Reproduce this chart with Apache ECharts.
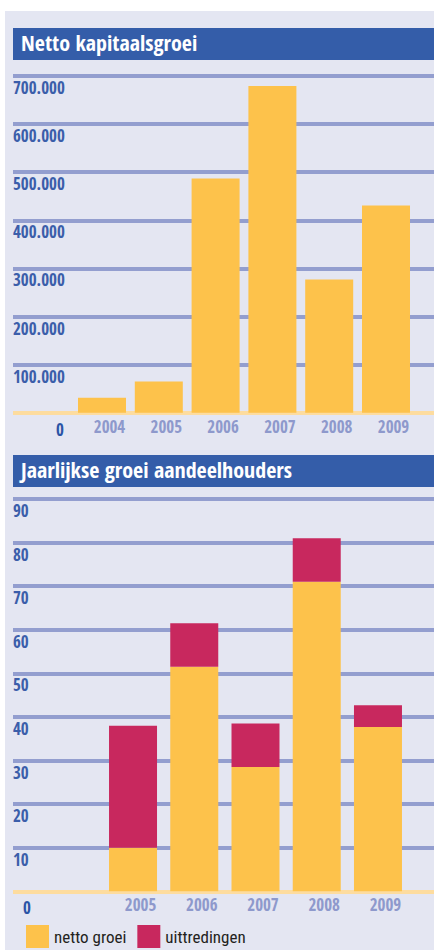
<!DOCTYPE html>
<html>
<head>
<meta charset="utf-8">
<script src="https://cdn.jsdelivr.net/npm/echarts@6/dist/echarts.min.js"></script>
<style>
html,body{margin:0;padding:0;background:#ffffff;}
#c{width:434px;height:950px;}
</style>
</head>
<body>
<div id="c"></div>
<script>
// ---- data ----
const capTitle = 'Netto kapitaalsgroei';
const capYears = ['2004', '2005', '2006', '2007', '2008', '2009'];
const capGrowth = [31000, 65000, 487000, 679000, 277000, 431000];
const capTicks = [0, 100000, 200000, 300000, 400000, 500000, 600000, 700000];

const holderTitle = 'Jaarlijkse groei aandeelhouders';
const holderYears = ['2005', '2006', '2007', '2008', '2009'];
const nettoGroei = [10, 51.5, 28.5, 71, 37.7];
const uittredingen = [28, 10, 10, 10, 5];
const holderTicks = [0, 10, 20, 30, 40, 50, 60, 70, 80, 90];
const seriesNames = ['netto groei', 'uittredingen'];

// ---- style ----
const FONT = '"Open Sans Condensed", "Roboto Condensed", sans-serif';
const FONT_REG = '"Roboto Condensed", "Open Sans", sans-serif';
const PANEL = '#e4e6f2';
const BAND = '#345da9';
const GRID = '#939ecf';
const BASE = '#fddc9f';
const LABEL = '#3b5eaa';
const ZERO = '#2b54a6';
const YEAR = '#8e99cc';
const YELLOW = '#fdc24b';
const CRIMSON = '#c8285e';

function lineColors(n) {
  const a = [BASE];
  for (let i = 1; i < n; i++) a.push(GRID);
  return a;
}

const chart = echarts.init(document.getElementById('c'), null, {renderer: 'svg'});

function yLabel(zeroPad, fmt) {
  return {
    inside: true,
    margin: 0,
    verticalAlign: 'top',
    padding: [3, 0, 0, 0],
    color: LABEL,
    fontFamily: FONT,
    fontWeight: 'bold',
    fontSize: 17,
    formatter: function (v) { return v === 0 ? '{z|0}' : fmt(v); },
    rich: {
      z: {padding: [5, 0, 0, zeroPad], color: ZERO, fontFamily: FONT, fontWeight: 'bold', fontSize: 17}
    }
  };
}

const option = {
  animation: false,
  graphic: [
    {type: 'rect', z: -10, shape: {x: 5, y: 11, width: 429, height: 939}, style: {fill: PANEL}, silent: true},
    {type: 'rect', z: -5, shape: {x: 13, y: 28, width: 421, height: 32}, style: {fill: BAND}, silent: true},
    {type: 'rect', z: -5, shape: {x: 13, y: 455, width: 421, height: 32}, style: {fill: BAND}, silent: true}
  ],
  title: [
    {text: capTitle, left: 21, top: 31, padding: 0,
     textStyle: {color: '#ffffff', fontFamily: FONT, fontWeight: 'bold', fontSize: 22}},
    {text: holderTitle, left: 21, top: 458, padding: 0,
     textStyle: {color: '#ffffff', fontFamily: FONT, fontWeight: 'bold', fontSize: 22}}
  ],
  legend: {
    data: seriesNames,
    left: 26, top: 925,
    itemWidth: 23, itemHeight: 23, itemGap: 11,
    icon: 'rect',
    padding: 0,
    textStyle: {color: '#231f20', fontFamily: FONT_REG, fontWeight: 'normal', fontSize: 17}
  },
  grid: [
    {left: 13, right: 0, top: 76, height: 336.7},
    {left: 73.6, width: 340.8, top: 76, height: 336.7},
    {left: 13, right: 0, top: 499, height: 392.3},
    {left: 102.4, width: 306.2, top: 499, height: 392.3}
  ],
  xAxis: [
    {gridIndex: 0, type: 'category', data: [''], show: false},
    {gridIndex: 1, type: 'category', data: capYears,
     axisLine: {show: false}, axisTick: {show: false}, splitLine: {show: false},
     axisLabel: {interval: 0, margin: 5, color: YEAR, fontFamily: FONT, fontWeight: 'bold', fontSize: 17, padding: [0, 0, 0, 15]}},
    {gridIndex: 2, type: 'category', data: [''], show: false},
    {gridIndex: 3, type: 'category', data: holderYears,
     axisLine: {show: false}, axisTick: {show: false}, splitLine: {show: false},
     axisLabel: {interval: 0, margin: 5, color: YEAR, fontFamily: FONT, fontWeight: 'bold', fontSize: 17, padding: [0, 0, 0, 15]}}
  ],
  yAxis: [
    {gridIndex: 0, type: 'value', min: capTicks[0], max: capTicks[capTicks.length - 1], interval: capTicks[1] - capTicks[0],
     axisLine: {show: false}, axisTick: {show: false},
     splitLine: {show: true, lineStyle: {width: 4, color: lineColors(capTicks.length)}},
     axisLabel: yLabel(43, function (v) { return (v / 1000) + '.000'; })},
    {gridIndex: 1, type: 'value', min: capTicks[0], max: capTicks[capTicks.length - 1], interval: capTicks[1] - capTicks[0], show: false},
    {gridIndex: 2, type: 'value', min: holderTicks[0], max: holderTicks[holderTicks.length - 1], interval: holderTicks[1] - holderTicks[0],
     axisLine: {show: false}, axisTick: {show: false},
     splitLine: {show: true, lineStyle: {width: 4, color: lineColors(holderTicks.length)}},
     axisLabel: yLabel(10, function (v) { return String(v); })},
    {gridIndex: 3, type: 'value', min: holderTicks[0], max: holderTicks[holderTicks.length - 1], interval: holderTicks[1] - holderTicks[0], show: false}
  ],
  series: [
    {name: capTitle, type: 'bar', xAxisIndex: 1, yAxisIndex: 1, data: capGrowth, barWidth: 48,
     itemStyle: {color: YELLOW}},
    {name: seriesNames[0], type: 'bar', stack: 'h', xAxisIndex: 3, yAxisIndex: 3, data: nettoGroei, barWidth: 48,
     itemStyle: {color: YELLOW}},
    {name: seriesNames[1], type: 'bar', stack: 'h', xAxisIndex: 3, yAxisIndex: 3, data: uittredingen, barWidth: 48,
     itemStyle: {color: CRIMSON}}
  ]
};
chart.setOption(option);
</script>
</body>
</html>
